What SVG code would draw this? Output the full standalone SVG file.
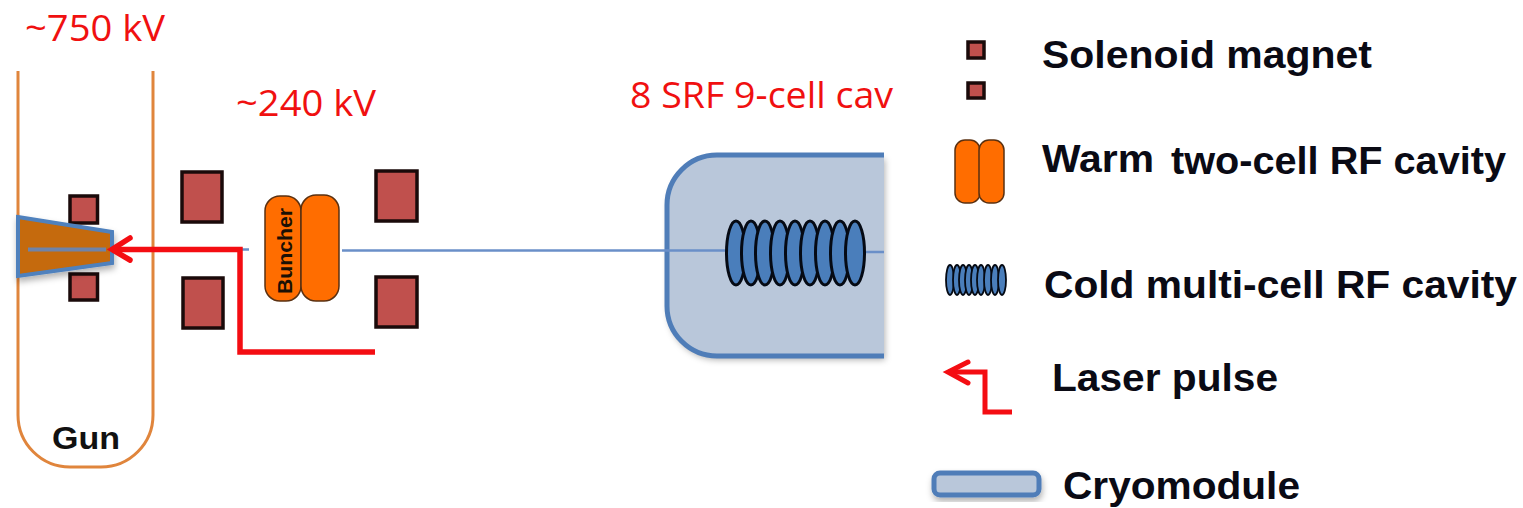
<svg xmlns="http://www.w3.org/2000/svg" width="1523" height="508" viewBox="0 0 1523 508">
<defs>
<filter id="shadow" x="-20%" y="-20%" width="140%" height="150%"><feDropShadow dx="1" dy="4" stdDeviation="3" flood-color="#000" flood-opacity="0.3"/></filter>
<filter id="soft" x="-10%" y="-10%" width="120%" height="120%"><feGaussianBlur stdDeviation="0.5"/></filter>
</defs>
<style>
.mag{fill:#c0504d;stroke:#1a0a0a;stroke-width:3.500}
.cell{fill:#ff6d00;stroke:#5a3010;stroke-width:1.500}
.cav{fill:#4a7ebb;stroke:#050a14;stroke-width:3}
.cavs{fill:#4a7ebb;stroke:#050a14;stroke-width:1.800}
.beam{fill:none;stroke:#6a8fc8;stroke-width:2.500}
.laser{fill:none;stroke:#f40d12;stroke-width:5.500}
.red{font-family:"Open Sans","Liberation Sans",sans-serif;fill:#f01010;font-size:37px}
.leg{font-family:"Liberation Sans",Arial,sans-serif;font-weight:700;fill:#0a0a14;font-size:38px}
</style>
<rect width="1523" height="508" fill="#fff"/>
<g id="labels">
<text class="red" x="25" y="41" textLength="140" lengthAdjust="spacingAndGlyphs">~750 kV</text>
<text class="red" x="236" y="116" textLength="140" lengthAdjust="spacingAndGlyphs">~240 kV</text>
<text class="red" x="630" y="108" textLength="263" lengthAdjust="spacingAndGlyphs">8 SRF 9-cell cav</text>
</g>
<g id="gun">
<path d="M18 71V415a52 52 0 0 0 52 52h31a52 52 0 0 0 52-52V71" fill="none" stroke="#e0853c" stroke-width="3"/>
<text x="52" y="449" font-family="'Liberation Sans',sans-serif" font-weight="700" font-size="32" textLength="68" lengthAdjust="spacingAndGlyphs" fill="#111">Gun</text>
</g>
<g id="gun-magnets">
<rect class="mag" x="70" y="196" width="27.500" height="27"/>
<rect class="mag" x="70" y="274" width="27.500" height="26"/>
</g>
<g id="cathode">
<path d="M18 217L112 232V263L18 276Z" fill="#c56a0a" stroke="#4f81bd" stroke-width="4" filter="url(#shadow)"/>
</g>
<g id="magnets">
<rect class="mag" x="182" y="172" width="40" height="50"/>
<rect class="mag" x="183" y="278" width="40" height="50"/>
<rect class="mag" x="376" y="171" width="41" height="50"/>
<rect class="mag" x="376" y="277" width="41" height="50"/>
</g>
<g id="buncher">
<rect class="cell" x="265" y="196" width="36" height="105" rx="15"/>
<rect class="cell" x="301" y="195" width="38" height="106" rx="15"/>
<text transform="translate(292,294) rotate(-90)" font-family="'Liberation Sans',sans-serif" font-weight="700" font-size="20" textLength="86" lengthAdjust="spacingAndGlyphs" fill="#1a1005">Buncher</text>
</g>
<g id="cryomodule">
<path d="M884 155H717a50 50 0 0 0-50 50V306a50 50 0 0 0 50 50H884Z" fill="#b9c7da" stroke="none" filter="url(#shadow)"/>
<path d="M884 155H717a50 50 0 0 0-50 50V306a50 50 0 0 0 50 50H884" fill="none" stroke="#4f7db8" stroke-width="5"/>
</g>
<g id="connectors">
<path fill="none" stroke="#6f83a8" stroke-width="4" d="M28 249.500H106"/>
<path class="beam" d="M240 249.500H249"/>
<path class="beam" d="M342 250.500H727"/>
<path class="beam" d="M862 252H884"/>
<path class="laser" d="M375 352H240V249.500H112"/>
<path class="laser" d="M130 238L112 249.500L130 260" stroke-linecap="round"/>
</g>
<g id="srf-cavity">
<ellipse class="cav" cx="736" cy="253" rx="9.500" ry="32"/>
<ellipse class="cav" cx="751" cy="253" rx="9.500" ry="32"/>
<ellipse class="cav" cx="765" cy="253" rx="9.500" ry="32"/>
<ellipse class="cav" cx="780" cy="253" rx="9.500" ry="32"/>
<ellipse class="cav" cx="795" cy="253" rx="9.500" ry="32"/>
<ellipse class="cav" cx="810" cy="253" rx="9.500" ry="32"/>
<ellipse class="cav" cx="825" cy="253" rx="9.500" ry="32"/>
<ellipse class="cav" cx="840" cy="253" rx="9.500" ry="32"/>
<ellipse class="cav" cx="855" cy="253" rx="9.500" ry="32"/>
</g>
<g id="legend-solenoid">
<rect class="mag" x="968" y="42" width="16" height="16"/>
<rect class="mag" x="968" y="83" width="16" height="15"/>
<text class="leg" x="1042" y="68" textLength="330" lengthAdjust="spacingAndGlyphs">Solenoid magnet</text>
</g>
<g id="legend-warm">
<rect class="cell" x="955" y="140" width="25" height="63" rx="10"/>
<rect class="cell" x="979" y="140" width="25" height="63" rx="10"/>
<text class="leg" x="1042" y="172" textLength="112" lengthAdjust="spacingAndGlyphs">Warm</text>
<text class="leg" x="1171" y="174" textLength="335" lengthAdjust="spacingAndGlyphs">two-cell RF cavity</text>
</g>
<g id="legend-cold">
<ellipse class="cavs" cx="950" cy="280" rx="4" ry="15"/>
<ellipse class="cavs" cx="957" cy="280" rx="4" ry="15"/>
<ellipse class="cavs" cx="963" cy="280" rx="4" ry="15"/>
<ellipse class="cavs" cx="969" cy="280" rx="4" ry="15"/>
<ellipse class="cavs" cx="975" cy="280" rx="4" ry="15"/>
<ellipse class="cavs" cx="981" cy="280" rx="4" ry="15"/>
<ellipse class="cavs" cx="988" cy="280" rx="4" ry="15"/>
<ellipse class="cavs" cx="995" cy="280" rx="4" ry="15"/>
<ellipse class="cavs" cx="1002" cy="280" rx="4" ry="15"/>
<text class="leg" x="1044" y="298" textLength="473" lengthAdjust="spacingAndGlyphs">Cold multi-cell RF cavity</text>
</g>
<g id="legend-laser">
<path d="M1012 412H985V372H948" fill="none" stroke="#f40d12" stroke-width="5"/>
<path d="M968 362L948 372L968 383" fill="none" stroke="#f40d12" stroke-width="5" stroke-linecap="round"/>
<text class="leg" x="1052" y="391" textLength="226" lengthAdjust="spacingAndGlyphs">Laser pulse</text>
</g>
<g id="legend-cryo">
<rect x="934" y="473" width="105" height="22" rx="6" fill="#b9c7da" stroke="#4f7db8" stroke-width="5" filter="url(#shadow)"/>
<text class="leg" x="1063" y="499" textLength="237" lengthAdjust="spacingAndGlyphs">Cryomodule</text>
</g>
</svg>
